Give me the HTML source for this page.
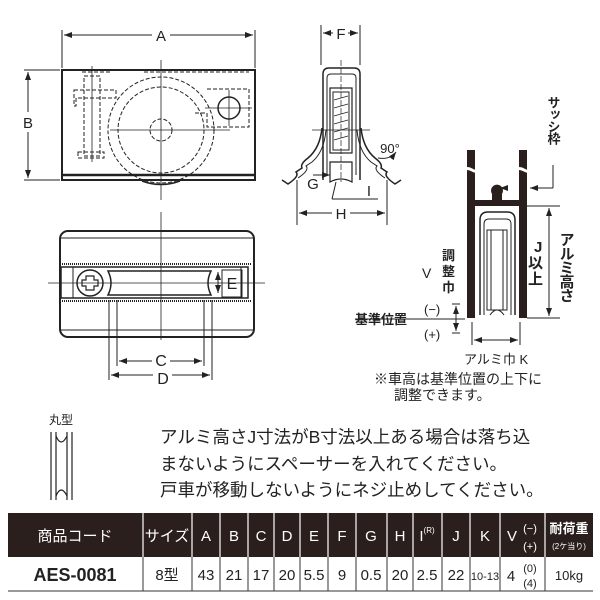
<!DOCTYPE html>
<html><head><meta charset="utf-8"><style>
html,body{margin:0;padding:0;background:#fff;}
svg{display:block;font-family:"Liberation Sans","Noto Sans CJK JP",sans-serif;}
</style></head><body>
<svg width="600" height="600" viewBox="0 0 600 600" xmlns="http://www.w3.org/2000/svg">
<defs>
<marker id="ar" markerWidth="8" markerHeight="6" refX="8" refY="3" orient="auto-start-reverse" markerUnits="userSpaceOnUse"><path d="M0,0 L8,3 L0,6 z" fill="#222"/></marker>
</defs>
<g stroke="#222" fill="none" stroke-width="1">
<!-- TOP-LEFT VIEW -->
<line x1="62" y1="30" x2="62" y2="68"/><line x1="255" y1="30" x2="255" y2="68"/>
<line x1="64" y1="35" x2="152" y2="35" marker-start="url(#ar)"/><line x1="170" y1="35" x2="253" y2="35" marker-end="url(#ar)"/>
<line x1="24" y1="70" x2="60" y2="70"/><line x1="24" y1="180" x2="60" y2="180"/>
<line x1="28" y1="72" x2="28" y2="112" marker-start="url(#ar)"/><line x1="28" y1="132" x2="28" y2="178" marker-end="url(#ar)"/>
<rect x="62" y="70" width="193" height="110" stroke-width="2"/>
<line x1="63" y1="175" x2="254" y2="175" stroke-width="2.5"/>
<path d="M142,181 Q161,188 180,181" stroke-width="1.5"/>
<g stroke-dasharray="4,2">
<circle cx="161" cy="130" r="53"/><circle cx="161" cy="130" r="43"/><circle cx="161" cy="130" r="11"/>
<path d="M74,90 h42 v8 h-40 v8 h-2z"/><path d="M207,89 h42 v38 h-42 v-14 h-12"/>
<path d="M82,72 h30 M144,72 h105"/>
<rect x="84" y="76" width="16" height="80"/><path d="M78,152 h26 v6 h-26z"/>
</g>
<circle cx="229" cy="108" r="11" stroke-width="1.5"/>
<line x1="161" y1="60" x2="161" y2="200" stroke-width="0.8"/><line x1="110" y1="130" x2="230" y2="130" stroke-width="0.8"/>
<line x1="205" y1="108" x2="252" y2="108" stroke-width="0.8"/><line x1="229" y1="90" x2="229" y2="126" stroke-width="0.8"/>
<line x1="92" y1="66" x2="92" y2="162" stroke-width="0.8"/>

<!-- MIDDLE VIEW -->
<rect x="60" y="231" width="194" height="106" rx="8" stroke-width="2"/>
<line x1="61" y1="238" x2="253" y2="238"/><line x1="61" y1="330" x2="253" y2="330"/>
<line x1="62" y1="264" x2="252" y2="264" stroke-dasharray="1,1" stroke-width="2"/>
<line x1="62" y1="301" x2="252" y2="301" stroke-dasharray="1,1" stroke-width="2"/>
<rect x="61" y="267" width="187" height="31" stroke-width="1.5"/>
<line x1="73" y1="267" x2="73" y2="298"/><line x1="241" y1="267" x2="241" y2="298"/>
<circle cx="90" cy="283" r="13" stroke-width="1.5"/>
<path d="M86,276 h8 v4 h4 v6 h-4 v4 h-8 v-4 h-4 v-6 h4z" stroke-width="1.2"/>
<path d="M108,271 h103 q-6,12 0,24 h-103 q6,-12 0,-24z" stroke-width="1.5"/>
<rect x="222" y="270" width="20" height="27"/>
<line x1="218" y1="272" x2="218" y2="293" marker-start="url(#ar)" marker-end="url(#ar)"/>
<line x1="161" y1="212" x2="161" y2="340" stroke-width="0.8"/><line x1="48" y1="283" x2="265" y2="283" stroke-width="0.8"/>
<line x1="109" y1="300" x2="109" y2="380"/><line x1="117" y1="300" x2="117" y2="366"/>
<line x1="204" y1="300" x2="204" y2="366"/><line x1="212" y1="300" x2="212" y2="380"/>
<line x1="119" y1="361" x2="152" y2="361" marker-start="url(#ar)"/><line x1="170" y1="361" x2="202" y2="361" marker-end="url(#ar)"/>
<line x1="111" y1="375" x2="153" y2="375" marker-start="url(#ar)"/><line x1="172" y1="375" x2="210" y2="375" marker-end="url(#ar)"/>

<!-- SIDE VIEW -->
<line x1="321" y1="25" x2="321" y2="65"/><line x1="360" y1="25" x2="360" y2="65"/>
<line x1="323" y1="33" x2="333" y2="33" marker-start="url(#ar)"/><line x1="348" y1="33" x2="358" y2="33" marker-end="url(#ar)"/>
<path d="M323,180 V74 q0,-6 6,-6 h25 q6,0 6,6 V180" stroke-width="1.5"/>
<path d="M327,175 V78 q0,-4 4,-4 h21 q4,0 4,4 V175" stroke-width="1"/>
<rect x="330" y="88" width="22" height="65" stroke-width="1.2"/>
<rect x="333" y="92" width="16" height="58"/>
<path d="M330,162 h22 v20 q-11,-6 -22,0z" stroke-width="1.2"/>
<g stroke-width="0.8"><path d="M334,100 L348,96 M334,108 L348,104 M334,116 L348,112 M334,124 L348,120 M334,132 L348,128 M334,140 L348,136"/></g>
<path d="M322,128 q-2,20 -14,30 q-8,6 -6,10 l-6,4 q4,4 -8,12 l-6,-4" stroke-width="1.5"/>
<path d="M326,130 q-2,22 -14,32 l-6,4 q4,4 -8,12"/>
<path d="M361,128 q2,20 14,30 q8,6 6,10 l6,4 q-4,4 8,12 l6,-4" stroke-width="1.5"/>
<path d="M357,130 q2,22 14,32 l6,4 q-4,4 8,12"/>
<line x1="341" y1="60" x2="341" y2="182" stroke-width="0.7" stroke-dasharray="6,2"/>
<line x1="312" y1="130" x2="370" y2="130" stroke-width="0.7"/>
<path d="M378,158 q12,2 18,-6" marker-end="url(#ar)"/>
<line x1="313" y1="175" x2="330" y2="175" marker-end="url(#ar)"/>
<line x1="336" y1="182" x2="332" y2="199"/><line x1="332" y1="199" x2="378" y2="199"/>
<line x1="297" y1="180" x2="297" y2="225"/><line x1="387" y1="180" x2="387" y2="225"/>
<line x1="299" y1="213" x2="332" y2="213" marker-start="url(#ar)"/><line x1="350" y1="213" x2="385" y2="213" marker-end="url(#ar)"/>

<!-- SASH VIEW -->
<g fill="#2a1f1c" stroke="none">
<rect x="467" y="150" width="8" height="168"/><rect x="519" y="150" width="8" height="168"/>
<rect x="467" y="200" width="60" height="6"/>
<path d="M492,200 v-6 a6,6 0 1,1 10,0 v6z"/>
</g>
<path d="M462,170 q5,-3 10,0 t10,0 M514,170 q5,-3 10,0 t10,0" stroke="#fff" stroke-width="3"/>
<path d="M480,315 V220 q0,-8 8,-8 h19 q8,0 8,8 V315" stroke-width="1.5"/>
<path d="M484,315 V224 q0,-5 5,-5 h17 q5,0 5,5 V315"/>
<rect x="487" y="230" width="20" height="80"/>
<path d="M491,230 V310 M503,230 V310"/>
<path d="M490,315 q7,-10 14,0"/>
<line x1="500" y1="188" x2="529" y2="188" marker-start="url(#ar)" stroke="none"/>
<line x1="553" y1="165" x2="553" y2="188"/><line x1="553" y1="188" x2="530" y2="188" marker-end="url(#ar)"/>
<line x1="527" y1="206" x2="560" y2="206"/><line x1="527" y1="318" x2="560" y2="318"/>
<line x1="549" y1="208" x2="549" y2="316" marker-start="url(#ar)" marker-end="url(#ar)"/>
<line x1="355" y1="319" x2="465" y2="319"/>
<line x1="452" y1="304" x2="460" y2="304"/><line x1="452" y1="333" x2="460" y2="333"/>
<line x1="456" y1="306" x2="456" y2="331" marker-start="url(#ar)" marker-end="url(#ar)"/>
<line x1="472" y1="322" x2="472" y2="345"/><line x1="520" y1="322" x2="520" y2="345"/>
<line x1="474" y1="340" x2="518" y2="340" marker-start="url(#ar)" marker-end="url(#ar)"/>

<!-- 丸型 icon -->
<path d="M51,432 V500 M56,432 V500 M67,432 V500 M72,432 V500" stroke-width="1.2"/>
<path d="M56,436 q5,12 11,0 M56,496 q5,-12 11,0" stroke-width="1.2"/>
</g>

<g fill="#222" font-size="15" text-anchor="middle">
<text x="161" y="41">A</text>
<text x="28" y="128">B</text>
<text x="232" y="289" font-size="16">E</text>
<text x="161" y="366" font-size="16">C</text>
<text x="163" y="384" font-size="16">D</text>
<text x="341" y="39">F</text>
<text x="313" y="189">G</text>
<text x="369" y="196">I</text>
<text x="341" y="219">H</text>
<text x="390" y="153" font-size="13">90°</text>
</g>
<g fill="#222" font-size="13" font-weight="bold" font-family="Liberation Sans,Noto Sans CJK JP,sans-serif">
<text x="553" y="120" text-anchor="middle" writing-mode="tb" style="writing-mode:vertical-rl" letter-spacing="-1">サッシ枠</text>
<text x="566" y="232" style="writing-mode:vertical-rl" font-size="15" letter-spacing="-1">アルミ高さ</text>
<text x="534" y="252" font-size="15">J</text>
<text x="528" y="268" font-size="15">以</text>
<text x="528" y="284" font-size="15">上</text>
<text x="442" y="260">調</text><text x="442" y="276">整</text><text x="442" y="292">巾</text>
<text x="422" y="278" font-weight="normal" font-size="14">V</text>
<text x="424" y="314" font-weight="normal">(−)</text>
<text x="424" y="339" font-weight="normal">(+)</text>
<text x="355" y="324">基準位置</text>
<text x="464" y="364" font-weight="normal">アルミ巾 K</text>
<text x="374" y="384" font-weight="normal" font-size="14">※車高は基準位置の上下に</text>
<text x="394" y="400" font-weight="normal" font-size="14">調整できます。</text>
<text x="49" y="424" font-weight="normal" font-size="12">丸型</text>
</g>
<g fill="#222" font-size="17.5">
<text x="160" y="443">アルミ高さJ寸法がB寸法以上ある場合は落ち込</text>
<text x="160" y="470">まないようにスペーサーを入れてください。</text>
<text x="160" y="496">戸車が移動しないようにネジ止めしてください。</text>
</g>

<!-- TABLE -->
<rect x="8" y="513" width="585" height="44" fill="#2a1f1c"/>
<g stroke="#fff" stroke-width="1.2">
<line x1="143" y1="513" x2="143" y2="557"/><line x1="192" y1="513" x2="192" y2="557"/><line x1="220" y1="513" x2="220" y2="557"/><line x1="248" y1="513" x2="248" y2="557"/><line x1="274" y1="513" x2="274" y2="557"/><line x1="300" y1="513" x2="300" y2="557"/><line x1="328" y1="513" x2="328" y2="557"/><line x1="356" y1="513" x2="356" y2="557"/><line x1="387" y1="513" x2="387" y2="557"/><line x1="413" y1="513" x2="413" y2="557"/><line x1="442" y1="513" x2="442" y2="557"/><line x1="470" y1="513" x2="470" y2="557"/><line x1="500" y1="513" x2="500" y2="557"/><line x1="545" y1="513" x2="545" y2="557"/>
</g>
<g stroke="#333" stroke-width="1">
<line x1="8" y1="591" x2="593" y2="591"/>
<line x1="143" y1="557" x2="143" y2="591"/><line x1="192" y1="557" x2="192" y2="591"/><line x1="220" y1="557" x2="220" y2="591"/><line x1="248" y1="557" x2="248" y2="591"/><line x1="274" y1="557" x2="274" y2="591"/><line x1="300" y1="557" x2="300" y2="591"/><line x1="328" y1="557" x2="328" y2="591"/><line x1="356" y1="557" x2="356" y2="591"/><line x1="387" y1="557" x2="387" y2="591"/><line x1="413" y1="557" x2="413" y2="591"/><line x1="442" y1="557" x2="442" y2="591"/><line x1="470" y1="557" x2="470" y2="591"/><line x1="500" y1="557" x2="500" y2="591"/><line x1="545" y1="557" x2="545" y2="591"/>
</g>
<g fill="#fff" font-size="15" text-anchor="middle">
<text x="75" y="541">商品コード</text><text x="167" y="541">サイズ</text>
<text x="206" y="541">A</text><text x="234" y="541">B</text><text x="261" y="541">C</text><text x="287" y="541">D</text><text x="314" y="541">E</text><text x="342" y="541">F</text><text x="371" y="541">G</text><text x="400" y="541">H</text><text x="427" y="541">I<tspan font-size="8" dy="-8">(R)</tspan></text><text x="456" y="541">J</text><text x="485" y="541">K</text>
<text x="512" y="541">V</text><text x="530" y="532" font-size="11">(−)</text><text x="530" y="550" font-size="11">(+)</text>
<text x="569" y="533" font-size="13" font-weight="bold">耐荷重</text><text x="569" y="549" font-size="8">(2ケ当り)</text>
</g>
<g fill="#222" font-size="15" text-anchor="middle">
<text x="75" y="581" font-weight="bold" font-size="18">AES-0081</text><text x="167" y="580">8型</text>
<text x="206" y="580">43</text><text x="234" y="580">21</text><text x="261" y="580">17</text><text x="287" y="580">20</text><text x="314" y="580">5.5</text><text x="342" y="580">9</text><text x="371" y="580">0.5</text><text x="400" y="580">20</text><text x="427" y="580">2.5</text><text x="456" y="580">22</text><text x="485" y="580" font-size="11">10-13</text>
<text x="511" y="581">4</text><text x="530" y="572" font-size="11">(0)</text><text x="530" y="587" font-size="11">(4)</text>
<text x="569" y="580" font-size="13">10kg</text>
</g>
</svg>
</body></html>
